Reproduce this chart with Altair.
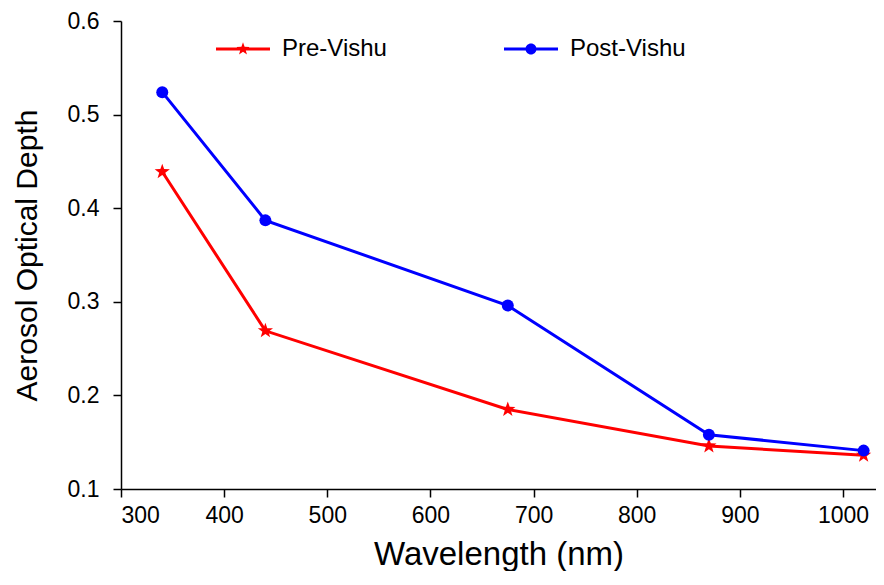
import math
import altair as alt
import pandas as pd

wavelength = [340, 440, 675, 870, 1020]
pre_vishu = [0.439, 0.269, 0.185, 0.146, 0.136]
post_vishu = [0.524, 0.387, 0.296, 0.158, 0.141]
series_names = ["Pre-Vishu", "Post-Vishu"]
series_colors = ["#FF0000", "#0000FF"]
x_ticks = [300, 400, 500, 600, 700, 800, 900, 1000]
y_ticks = [0.1, 0.2, 0.3, 0.4, 0.5, 0.6]

FONT = "Liberation Sans"

def star_path(R=1.0, r=0.4):
    pts = []
    for i in range(10):
        ang = math.radians(-90 + i * 36)
        rad = R if i % 2 == 0 else r
        pts.append((rad * math.cos(ang), rad * math.sin(ang)))
    return "M" + "L".join(f"{x:.3f},{y:.3f}" for x, y in pts) + "Z"

STAR = star_path()
LEG_STAR = star_path(1.35, 0.54)
LEG_CIRCLE = "M-1.1,0A1.1,1.1,0,1,1,1.1,0A1.1,1.1,0,1,1,-1.1,0Z"
LINE = "M-5.4,-0.3H5.4V0.3H-5.4Z"

rows = []
for w, a, b in zip(wavelength, pre_vishu, post_vishu):
    rows.append({"wl": w, "aod": a, "series": "Pre-Vishu"})
    rows.append({"wl": w, "aod": b, "series": "Post-Vishu"})
df = pd.DataFrame(rows)

xenc = alt.X("wl:Q", scale=alt.Scale(domain=[300, 1032], nice=False, zero=False),
             axis=alt.Axis(values=x_ticks, format="d", title="Wavelength (nm)", labelPadding=7,
                           titlePadding=11, titleFontSize=33))
yenc = alt.Y("aod:Q", scale=alt.Scale(domain=[0.1, 0.6], nice=False, zero=False),
             axis=alt.Axis(values=y_ticks, format=".1f", title="Aerosol Optical Depth",
                           labelPadding=14, titlePadding=25, titleFontSize=30))

base = alt.Chart(df)
pre = base.transform_filter(alt.datum.series == "Pre-Vishu")
post = base.transform_filter(alt.datum.series == "Post-Vishu")
line_pre = pre.mark_line(strokeWidth=3, color="#FF0000").encode(x=xenc, y=yenc)
line_post = post.mark_line(strokeWidth=3, color="#0000FF").encode(x=xenc, y=yenc)
stars = pre.mark_point(shape=STAR, size=256, filled=True, opacity=1,
                       color="#FF0000").encode(x=xenc, y=yenc)
circles = post.mark_point(shape="circle", size=144, filled=True, opacity=1,
                          color="#0000FF").encode(x=xenc, y=yenc)

leg = alt.Legend(title=None, orient="none", direction="horizontal", legendX=110, legendY=16,
                 symbolSize=100, symbolStrokeWidth=0, symbolOpacity=1, labelOffset=27,
                 columnPadding=117, labelFontSize=24, labelFont=FONT, labelColor="black",
                 padding=0)
legend_layer = alt.Chart(pd.DataFrame({"key": series_names})).transform_filter(
    "datum.key == 'none'").mark_point(filled=True, opacity=1).encode(
    fill=alt.Fill("key:N", scale=alt.Scale(domain=series_names, range=series_colors), legend=leg),
    shape=alt.Shape("key:N", scale=alt.Scale(domain=series_names,
                                             range=[LINE + LEG_STAR, LINE + LEG_CIRCLE]),
                    legend=leg),
)

chart = alt.layer(line_pre, line_post, stars, circles, legend_layer).properties(
    width=755, height=468, padding={"left": 4, "top": 2, "right": 0, "bottom": 0}
).configure_view(stroke=None).configure_axis(
    grid=False, domainColor="black", domainWidth=1.5, tickColor="black", tickWidth=1.5,
    tickSize=8, labelFont=FONT, labelFontSize=23, labelColor="black", titleFont=FONT,
    titleColor="black", titleFontWeight="normal"
)

chart.save("out.html", embed_options={"renderer": "svg", "actions": False})
